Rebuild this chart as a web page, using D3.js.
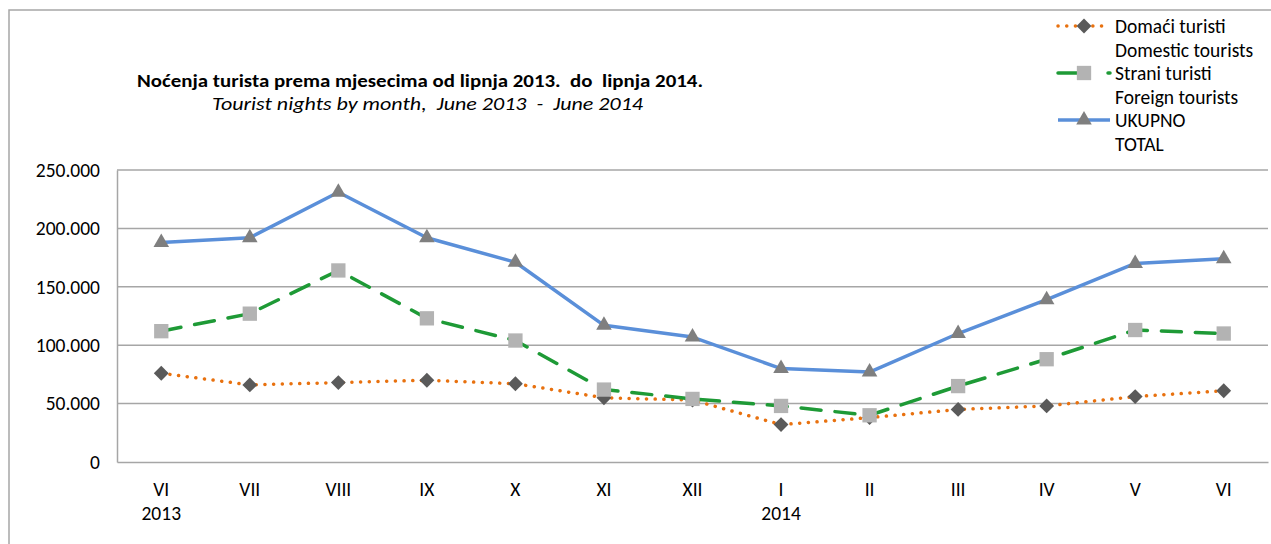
<!DOCTYPE html>
<html>
<head>
<meta charset="utf-8">
<title>Noćenja turista</title>
<script src="https://cdn.jsdelivr.net/npm/d3@7"></script>
<style>
  html, body { margin: 0; padding: 0; background: #fff; }
  svg text { font-family: Carlito, Calibri, Lato, "Open Sans", sans-serif; fill: #000; }
</style>
</head>
<body>
<svg id="chart" width="1271" height="544"></svg>
<script>
// months June 2013 - June 2014
const months = ["VI", "VII", "VIII", "IX", "X", "XI", "XII", "I", "II", "III", "IV", "V", "VI"];
const yearLabels = ["2013", "", "", "", "", "", "", "2014", "", "", "", "", ""];
const domestic = [76000, 66000, 68000, 70000, 67000, 55000, 53000, 32000, 38000, 45000, 48000, 56000, 61000];
const foreign = [112000, 127000, 164000, 123000, 104000, 62000, 54000, 48000, 40000, 65000, 88000, 113000, 110000];
const total = [188000, 192000, 231000, 192000, 171000, 117000, 107000, 80000, 77000, 110000, 139000, 170000, 174000];
const yTicks = [0, 50000, 100000, 150000, 200000, 250000];

const series = [
  { name: "Domaći turisti", sub: "Domestic tourists", values: domestic, color: "#E8710F", dash: "0.1 8.6", legDash: "0.1 8.6", cap: "round", marker: "diamond", mcolor: "#5A5A5A" },
  { name: "Strani turisti", sub: "Foreign tourists", values: foreign, color: "#1E9A36", dash: "20 14", legDash: "20 30", cap: "round", marker: "square", mcolor: "#B3B3B3" },
  { name: "UKUPNO", sub: "TOTAL", values: total, color: "#5A8FD9", dash: null, legDash: null, cap: "butt", marker: "triangle", mcolor: "#7F7F7F" }
];

const svg = d3.select("#chart");
const margin = { left: 117, top: 170, right: 1268, bottom: 462 };
const fs = 19.5;

// frame
svg.append("path")
  .attr("d", "M9,544 V10 H1271")
  .attr("fill", "none").attr("stroke", "#A6A6A6").attr("stroke-width", 1.5);

// titles
svg.append("text").attr("x", 137).attr("y", 87)
  .attr("font-size", 18).attr("font-weight", "bold")
  .attr("textLength", 566).attr("lengthAdjust", "spacingAndGlyphs")
  .style("white-space", "pre")
  .text("Noćenja turista prema mjesecima od lipnja 2013.  do  lipnja 2014.");
svg.append("text").attr("x", 212).attr("y", 110)
  .attr("font-size", 18).attr("font-style", "italic")
  .attr("textLength", 431).attr("lengthAdjust", "spacingAndGlyphs")
  .style("white-space", "pre")
  .text("Tourist nights by month,  June 2013  -  June 2014");

const x = d3.scaleBand().domain(d3.range(months.length)).range([margin.left, margin.right]);
const y = d3.scaleLinear().domain([0, 250000]).range([margin.bottom, margin.top]);
const cx = i => x(i) + x.bandwidth() / 2;

// gridlines
svg.append("g").selectAll("line").data(yTicks.slice(1)).join("line")
  .attr("x1", margin.left).attr("x2", margin.right)
  .attr("y1", d => y(d)).attr("y2", d => y(d))
  .attr("stroke", "#A6A6A6").attr("stroke-width", 1.5);

// y axis
const fmt = d => d === 0 ? "0" : d3.format(",")(d).replace(/,/g, ".");
const yAxis = svg.append("g").attr("transform", `translate(${margin.left},0)`)
  .call(d3.axisLeft(y).tickValues(yTicks).tickSize(0).tickPadding(17).tickFormat(fmt));
yAxis.select(".domain").attr("stroke", "#A6A6A6").attr("stroke-width", 1.5);
yAxis.selectAll("text").attr("font-size", fs).attr("font-family", null);

// x axis
const xAxis = svg.append("g").attr("transform", `translate(0,${margin.bottom})`)
  .call(d3.axisBottom(x).tickSize(0).tickFormat(() => ""));
xAxis.select(".domain").attr("stroke", "#A6A6A6").attr("stroke-width", 1.5);
const xl = svg.append("g").attr("font-size", fs);
xl.selectAll("text.m").data(months).join("text").attr("class", "m")
  .attr("x", (d, i) => cx(i)).attr("y", 496).attr("text-anchor", "middle").text(d => d);
xl.selectAll("text.yr").data(yearLabels).join("text").attr("class", "yr")
  .attr("x", (d, i) => cx(i)).attr("y", 520).attr("text-anchor", "middle").text(d => d);

// markers
const sym = {
  diamond: d3.symbol().type(d3.symbolSquare).size(110),
  square: d3.symbol().type(d3.symbolSquare).size(205),
  triangle: d3.symbol().type(d3.symbolTriangle).size(105)
};
function marker(g, type, color, px, py) {
  g.append("path").attr("d", sym[type]())
    .attr("transform", `translate(${px},${py})` + (type === "diamond" ? " rotate(45)" : ""))
    .attr("fill", color);
}

const line = d3.line().x((d, i) => cx(i)).y(d => y(d));
series.forEach(s => {
  const g = svg.append("g");
  g.append("path").datum(s.values).attr("d", line)
    .attr("fill", "none").attr("stroke", s.color).attr("stroke-width", 3.5)
    .attr("stroke-dasharray", s.dash).attr("stroke-linecap", s.cap).attr("stroke-linejoin", "round");
  s.values.forEach((v, i) => marker(g, s.marker, s.mcolor, cx(i), y(v)));
});

// legend
const lg = svg.append("g");
series.forEach((s, k) => {
  const ly = 26 + k * 47;
  lg.append("line").attr("x1", 1058).attr("x2", 1110)
    .attr("y1", ly).attr("y2", ly)
    .attr("stroke", s.color).attr("stroke-width", 3.5)
    .attr("stroke-dasharray", s.legDash).attr("stroke-linecap", s.cap);
  marker(lg, s.marker, s.mcolor, 1084, ly);
  lg.append("text").attr("x", 1115).attr("y", ly + 6.5).attr("font-size", fs).text(s.name);
  lg.append("text").attr("x", 1115).attr("y", ly + 30.5).attr("font-size", fs).text(s.sub);
});
</script>
</body>
</html>
